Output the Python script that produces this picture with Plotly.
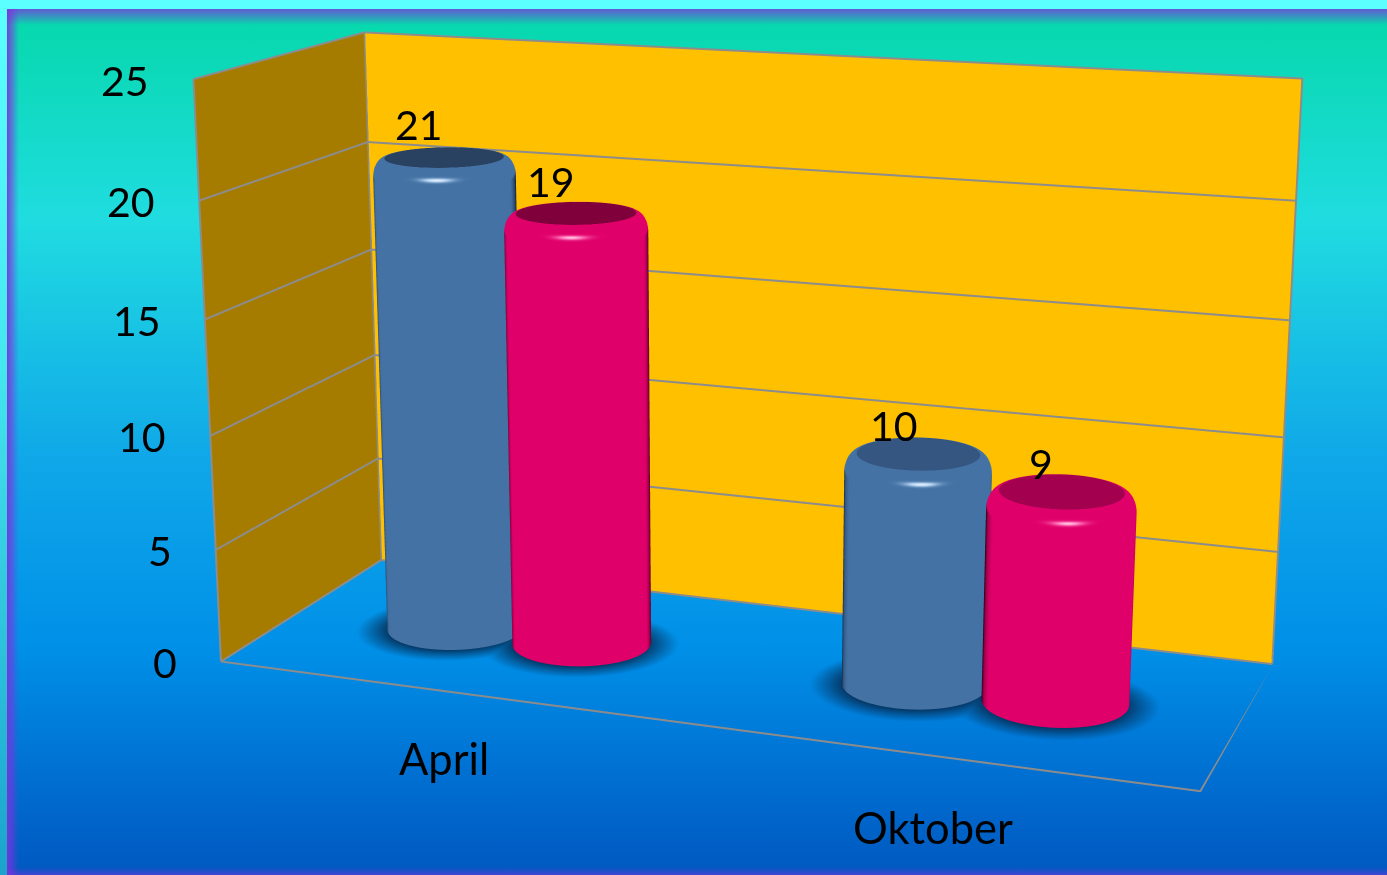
import base64
import numpy as np
import plotly.graph_objects as go

categories = ["April", "Oktober"]
series_a = [21, 10]
series_b = [19, 9]
z_ticks = [0, 5, 10, 15, 20, 25]
W, H = 1387, 875
EYE = np.array([1.6158, -4.5004, 1.2037])
CEN = np.array([-0.0658, -0.0716, -0.0891])
UP = np.array([0.0022, 0.0019, 1.0001])
ASP = np.array([1.6826, 0.6088, 0.9976])
F = 6.7948

XR, YR, ZR = (-0.5, 1.5), (0.0, 1.0), (0.0, 25.0)
GRID = "#8C8C8C"
BAR_RX = 0.143
BAR_OFF = 0.143
BAR_Y = 0.495
rw = BAR_RX * ASP[0] / (XR[1]-XR[0])
ry = rw * (YR[1]-YR[0]) / ASP[1]
bevel_r = 0.17
bevel_z = 0.8
UNLIT = dict(ambient=1, diffuse=0, specular=0, fresnel=0, roughness=1)
BG_STOPS = [(0.02, "#06D8AC"), (0.25, "#20DCE0"), (0.52, "#10A8E8"), (0.74, "#0090E8"), (0.92, "#0068CC"), (1, "#0058C0")]

stops_svg = "".join(f'<stop offset="{o}" stop-color="{c}"/>' for o, c in BG_STOPS)
svg = f'''<svg xmlns="http://www.w3.org/2000/svg" width="{W}" height="{H}"><defs>
<linearGradient id="g" x1="0" y1="0" x2="0" y2="1">{stops_svg}</linearGradient>
<linearGradient id="s" x1="0" y1="0" x2="0" y2="1"><stop offset="0" stop-color="#5CFFFF"/><stop offset="0.4" stop-color="#45E8F0"/><stop offset="1" stop-color="#1AA3CC"/></linearGradient>
<linearGradient id="l" x1="0" y1="0" x2="1" y2="0"><stop offset="0" stop-color="#8030E0" stop-opacity="0.9"/><stop offset="1" stop-color="#8030E0" stop-opacity="0"/></linearGradient>
<linearGradient id="t" x1="0" y1="0" x2="0" y2="1"><stop offset="0" stop-color="#8030E0" stop-opacity="0.75"/><stop offset="1" stop-color="#8030E0" stop-opacity="0"/></linearGradient>
<linearGradient id="b" x1="0" y1="1" x2="0" y2="0"><stop offset="0" stop-color="#8030E0" stop-opacity="0.5"/><stop offset="1" stop-color="#8030E0" stop-opacity="0"/></linearGradient>
</defs><rect width="{W}" height="{H}" fill="url(#g)"/>
<rect x="7" y="9" width="12" height="{H-9}" fill="url(#l)"/>
<rect x="7" y="9" width="{W}" height="16" fill="url(#t)"/>
<rect x="7" y="867" width="{W}" height="8" fill="url(#b)"/>
<rect width="7" height="{H}" fill="url(#s)"/><rect width="{W}" height="9" fill="#5CFFFF"/></svg>'''
bg = "data:image/svg+xml;base64," + base64.b64encode(svg.encode()).decode()

view = EYE[:2] - CEN[:2]
view = view / np.linalg.norm(view)
vth = np.arctan2(view[1], view[0])
theta = vth + np.concatenate([np.linspace(-np.pi, -0.5, 40), np.linspace(-0.5, 0.5, 81)[1:-1], np.linspace(0.5, np.pi, 40)])

def screen_y(x, y):
    """Pixel row of a floor point in the fitted camera, for matching the backdrop colour."""
    q = np.stack([(x - XR[0]) / (XR[1]-XR[0]) - .5, (y - YR[0]) / (YR[1]-YR[0]) - .5, np.full_like(x, -.5)], axis=-1) * ASP
    f = CEN - EYE; f = f / np.linalg.norm(f)
    s = np.cross(f, UP); s = s / np.linalg.norm(s)
    u = np.cross(s, f)
    d = q - EYE
    return H/2 - H/2*F*(d @ u)/(d @ f)

def hex_rgb(h):
    return np.array([int(h[i:i+2], 16) for i in (1, 3, 5)], float)

def ramp(vals, stops):
    xs = [s[0] for s in stops]
    cs = np.array([hex_rgb(s[1]) for s in stops])
    return np.stack([np.interp(vals, xs, cs[:, k]) for k in range(3)], axis=-1)

def rgb_list(rgb):
    return [f"rgb({q[0]:.0f},{q[1]:.0f},{q[2]:.0f})" for q in rgb.reshape(-1, 3)]

def grid_mesh(x, y, z, colors, keep=None):
    nr, nt = x.shape
    idx = np.arange(nr*nt).reshape(nr, nt)
    a, b, c, d = idx[:-1, :-1].ravel(), idx[1:, :-1].ravel(), idx[1:, 1:].ravel(), idx[:-1, 1:].ravel()
    if keep is not None:
        m = keep.ravel()
        sel = m[a] | m[b] | m[c] | m[d]
        a, b, c, d = a[sel], b[sel], c[sel], d[sel]
    return go.Mesh3d(x=x.ravel(), y=y.ravel(), z=z.ravel(),
        i=np.concatenate([a, a]), j=np.concatenate([b, c]), k=np.concatenate([c, d]),
        vertexcolor=colors, lighting=UNLIT, hoverinfo="skip", showscale=False)

def cylinder(cx, value, base, cap, dark, light):
    a = np.linspace(0, np.pi/2, 26)
    rows_r = np.concatenate([[1, 1], 1 - bevel_r + bevel_r*np.cos(a), np.linspace(1-bevel_r, 0, 5)[1:]])
    rows_z = np.concatenate([[0, value-bevel_z-0.02], value-bevel_z+bevel_z*np.sin(a), [value]*4])
    a_all = np.concatenate([[0, 0], a, [np.pi/2]*4])
    rr, tt = np.meshgrid(rows_r, theta, indexing="ij")
    x = cx + BAR_RX*rr*np.cos(tt)
    y = BAR_Y + ry*rr*np.sin(tt)
    z = np.tile(rows_z[:, None], (1, theta.size))
    t = np.cos(tt - vth)*np.cos(a_all[:, None]) + 0.9*np.sin(a_all[:, None])
    side = 0.5*np.clip(t/0.33, 0, 1)**0.8
    hi = np.exp(-((tt-vth+0.03)/0.22)**2) * np.exp(-((a_all[:, None]-0.45)/0.11)**2)
    c = side + 0.42*hi
    c[rows_z >= value - 1e-9, :] = 0.25
    rgb = ramp(c, [(0, dark), (0.25, cap), (0.5, base), (0.75, light), (1, "#FFFFFF")])
    return grid_mesh(x, y, z, rgb_list(rgb))

def shadow(i):
    s = 1.42
    xs = np.linspace(i - BAR_OFF - BAR_RX*s - 0.01, i + BAR_OFF + BAR_RX*s + 0.01, 120)
    ys = np.linspace(BAR_Y - ry*s - 0.01, BAR_Y + ry*s + 0.01, 70)
    x, y = np.meshgrid(xs, ys, indexing="ij")
    rs = [np.hypot((x - (i + o))/(BAR_RX*s), (y - (BAR_Y - 0.01))/(ry*s)) for o in (-BAR_OFF, BAR_OFF)]
    al = np.maximum(*[np.interp(r, [0, 0.68, 0.83, 1], [0.95, 0.88, 0.45, 0.0]) for r in rs])
    floor = ramp(screen_y(x, y)/H, BG_STOPS)
    dark = hex_rgb("#052F58")
    rgb = dark*al[..., None] + floor*(1-al[..., None])
    return grid_mesh(x, y, np.full_like(x, 0.01), rgb_list(rgb), keep=al > 0.002)

fig = go.Figure()
for i, cat in enumerate(categories):
    fig.add_trace(shadow(i))
caps_a = ["#2A4262", "#345680"]
caps_b = ["#80003C", "#A30050"]
for i, cat in enumerate(categories):
    fig.add_trace(cylinder(i - BAR_OFF, series_a[i], "#4472A4", caps_a[i], "#0B1A2C", "#AFCFF0"))
    fig.add_trace(cylinder(i + BAR_OFF, series_b[i], "#E0006A", caps_b[i], "#300016", "#FF70B8"))

frame_x = [XR[0],XR[1],XR[1],XR[0],XR[0],XR[0],None,XR[0],XR[0],XR[1],XR[1],None,XR[0],XR[0]]
frame_y = [YR[0],YR[0],YR[1],YR[1],YR[0],YR[0],None,YR[0],YR[1],YR[1],YR[1],None,YR[1],YR[1]]
frame_z = [0,0,0,0,0,25,None,25,25,25,0,None,0,25]
for v in z_ticks[1:-1]:
    frame_x += [None, XR[0], XR[0], XR[1]]
    frame_y += [None, YR[0], YR[1], YR[1]]
    frame_z += [None, v, v, v]
fig.add_trace(go.Scatter3d(x=frame_x, y=frame_y, z=frame_z, mode="lines",
    line=dict(color=GRID, width=4), showlegend=False, hoverinfo="skip"))

TXT = dict(family="Lato, Carlito, sans-serif", size=41, color="#000000")
CAT_TXT = dict(TXT, size=43.5)
label_dx = [[-25, -25], [-24, -21]]
label_dy = [[33, 32], [28, 28]]
cat_dy = [-67, -71]
ann = []
for v in z_ticks:
    ann.append(dict(x=XR[0], y=YR[0], z=v, text=str(v), showarrow=False, xanchor="right", xshift=-42, yshift=-1, font=TXT))
for i, vals in enumerate(zip(series_a, series_b)):
    for j, v in enumerate(vals):
        cx = i + (-BAR_OFF if j == 0 else BAR_OFF)
        ann.append(dict(x=cx, y=BAR_Y, z=v, text=str(v), showarrow=False, xshift=label_dx[i][j], yshift=label_dy[i][j], font=TXT))
for i, cat in enumerate(categories):
    ann.append(dict(x=i, y=YR[0], z=0, text=cat, showarrow=False, xshift=0, yshift=cat_dy[i], font=CAT_TXT))

ax = dict(showbackground=True, showgrid=False, zeroline=False, showticklabels=False, title="", showspikes=False, ticks="")
fig.update_layout(width=W, height=H, margin=dict(l=0,r=0,t=0,b=0), paper_bgcolor="rgba(0,0,0,0)", showlegend=False,
    images=[dict(source=bg, xref="paper", yref="paper", x=0, y=1, sizex=1, sizey=1, sizing="stretch", layer="below")],
    scene=dict(domain=dict(x=[0,1],y=[0,1]), bgcolor="rgba(0,0,0,0)", dragmode="orbit", annotations=ann,
        xaxis=dict(ax, range=list(XR), backgroundcolor="#A67C00"),
        yaxis=dict(ax, range=list(YR), backgroundcolor="#FFC000"),
        zaxis=dict(ax, range=list(ZR), showbackground=False, tickvals=z_ticks),
        aspectmode="manual", aspectratio=dict(x=ASP[0],y=ASP[1],z=ASP[2]),
        camera=dict(eye=dict(x=EYE[0],y=EYE[1],z=EYE[2]),center=dict(x=CEN[0],y=CEN[1],z=CEN[2]),up=dict(x=UP[0],y=UP[1],z=UP[2]))))
fovy = 2*np.arctan(1/F)
post = f"""
document.body.style.margin='0';
var gd=document.getElementById('{{plot_id}}');
var sc=gd._fullLayout.scene._scene;
sc.glplot.fovy={fovy};
sc.glplot.redraw();
"""
fig.write_html("out.html", post_script=post, config=dict(displayModeBar=False))
